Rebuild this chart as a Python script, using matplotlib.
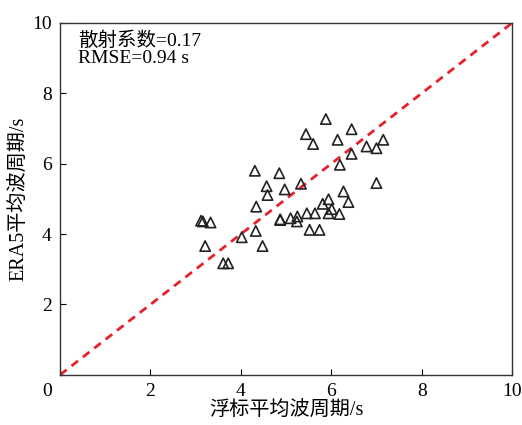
import matplotlib.pyplot as plt

plt.rcParams['font.family'] = ['Liberation Serif', 'Noto Sans CJK SC']
plt.rcParams['axes.unicode_minus'] = False

# Buoy vs ERA5 mean wave period (s)
buoy_period = [
    3.12, 3.16, 3.33, 3.21, 3.61, 3.72, 4.02, 4.33, 4.48, 4.34,
    4.31, 4.85, 4.57, 4.59, 4.97, 5.33, 4.87, 5.10, 5.25, 5.24,
    5.46, 5.64, 5.94, 6.01, 6.18, 5.81, 5.94, 6.27, 6.38, 5.52,
    5.74, 5.88, 5.44, 5.60, 6.45, 6.14, 6.78, 7.00, 7.15, 6.45,
    6.19, 7.00, 4.87,
]
era5_period = [
    4.38, 4.36, 4.33, 3.66, 3.17, 3.17, 3.91, 4.09, 3.66, 4.78,
    5.80, 5.73, 5.36, 5.11, 5.27, 5.43, 4.42, 4.45, 4.50, 4.36,
    4.59, 4.59, 4.59, 4.71, 4.57, 4.86, 4.99, 5.21, 4.91, 4.12,
    4.12, 7.27, 6.84, 6.56, 6.98, 6.68, 6.49, 6.44, 6.68, 6.28,
    5.97, 5.45, 4.40,
]
ticks = [0, 2, 4, 6, 8, 10]
x_tick_labels = ['', '2', '4', '6', '8', '10']
y_tick_labels = ['', '2', '4', '6', '8', '10']

fig = plt.figure(figsize=(5.22, 4.25), dpi=100)
ax = fig.add_axes([0.115, 0.118, 0.866, 0.828])

ax.plot([0, 10], [0, 10], color='#e8202a', lw=2, ls=(0, (3, 2.2)), zorder=1)
ax.scatter(buoy_period, era5_period, marker='^', s=55, facecolors='none',
           edgecolors='#222222', linewidths=1.2, zorder=2)

ax.set_xlim(0, 10)
ax.set_ylim(0, 10)
ax.set_xticks(ticks, x_tick_labels)
ax.set_yticks(ticks, y_tick_labels)
ax.tick_params(direction='in', length=4, labelsize=14, pad=6)
for side in ax.spines.values():
    side.set_linewidth(1.0)
    side.set_color('#333333')

# shared origin label sitting between the two axes
ax.annotate('0', xy=(0, 0), xycoords='axes fraction', xytext=(-9.5, -6),
            textcoords='offset points', fontsize=14, ha='center', va='top')

ax.set_xlabel('浮标平均波周期/s', fontsize=14.5, labelpad=1)
ax.set_ylabel('ERA5平均波周期/s', fontsize=14.5, labelpad=2)

ax.text(0.04, 0.975, '散射系数=0.17\nRMSE=0.94 s', transform=ax.transAxes,
        fontsize=14, va='top', ha='left', linespacing=1.0)

fig.savefig('out.png', dpi=100)
